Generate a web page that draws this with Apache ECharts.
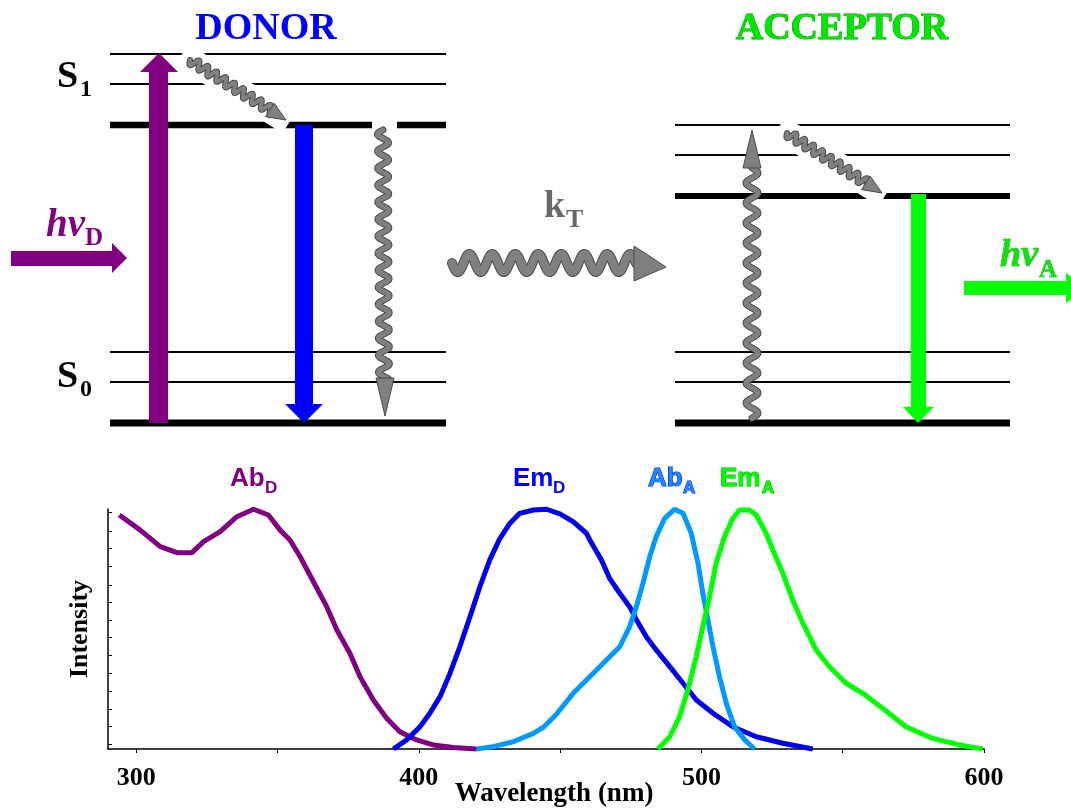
<!DOCTYPE html>
<html><head><meta charset="utf-8">
<script src="https://cdn.jsdelivr.net/npm/echarts@6/dist/echarts.min.js"></script>
<style>html,body{margin:0;padding:0;background:#fff}#c{width:1071px;height:809px}</style>
</head><body><div id="c"></div>
<script>
// ---- spectra data: [wavelength nm, normalized intensity] ----
const absorbDonor = [[294,0.975],[301.4,0.912],[308.5,0.843],[314.4,0.818],[319.7,0.818],[323.8,0.864],[329.7,0.906],[335.6,0.968],[341.5,0.999],[346.8,0.975],[350.9,0.912],[354.4,0.871],[358,0.801],[362.7,0.697],[367.4,0.593],[371,0.496],[375.6,0.399],[379.2,0.301],[383.9,0.204],[388.6,0.128],[393.3,0.072],[399.2,0.038],[405.1,0.017],[412.2,0.006],[420.4,0]];
const emitDonor = [[391,0],[395.7,0.038],[400.4,0.093],[403.9,0.149],[407.5,0.218],[411,0.315],[414.5,0.426],[418.1,0.551],[421.6,0.676],[425.1,0.788],[428.7,0.878],[432.2,0.94],[435.7,0.982],[440.5,0.996],[445.2,0.999],[449.9,0.98],[454.6,0.947],[459.3,0.899],[460.5,0.871],[464.6,0.788],[467.5,0.711],[471.1,0.649],[474.6,0.593],[477,0.538],[480.5,0.468],[484,0.413],[488.8,0.343],[493.5,0.274],[498.2,0.204],[504.1,0.149],[511.1,0.093],[519.4,0.051],[528.8,0.024],[539.4,0]];
const absorbAcceptor = [[420.4,0],[426.3,0.01],[433.4,0.03],[440.5,0.065],[444,0.09],[448.7,0.145],[454.6,0.232],[460.5,0.301],[466.4,0.371],[471.1,0.426],[474.6,0.51],[477,0.593],[479.3,0.69],[481.7,0.801],[484,0.885],[487,0.961],[490.5,0.999],[493.5,0.982],[496.4,0.899],[498.8,0.774],[500.5,0.649],[502.3,0.538],[504.1,0.426],[506.4,0.301],[508.8,0.19],[511.7,0.093],[515.3,0.038],[518.8,0]];
const emitAcceptor = [[484.6,0],[488.8,0.051],[492.3,0.135],[495.2,0.246],[498.2,0.385],[500.5,0.51],[502.9,0.635],[505.2,0.774],[508.2,0.885],[511.1,0.961],[513.5,0.996],[517,0.996],[519.4,0.975],[522.9,0.899],[525.3,0.829],[528.8,0.732],[532.3,0.621],[535.9,0.524],[540.6,0.413],[545.3,0.343],[551.2,0.274],[557.1,0.232],[564.2,0.169],[572.4,0.093],[581.8,0.044],[591.3,0.017],[599.5,0]];
const xTickValues = [300,350,400,450,500,550,600];
const xLabelValues = [300,400,500,600];
const yTickValues = [0.019,0.094,0.167,0.242,0.315,0.389,0.464,0.536,0.611,0.683,0.760,0.836,0.908,0.985];

const SERIF = '"Liberation Serif","Times New Roman",serif';
const SANS = '"Liberation Sans",Arial,sans-serif';

function txt(x,y,text,font,fill,extra){
  return {type:'text', x:x, y:y, z:20, style:Object.assign({text:text, font:font, fill:fill,
    textAlign:'left', textVerticalAlign:'middle', align:'left', verticalAlign:'middle'}, extra||{})};
}
function rect(x,y,w,h,fill,z){ return {type:'rect', z:z||10, shape:{x:x,y:y,width:w,height:h}, style:{fill:fill}}; }
function poly(points,fill,z,stroke){ return {type:'polygon', z:z||10, shape:{points:points}, style:{fill:fill, stroke:stroke||null, lineWidth:stroke?1:0}}; }
function hline(x1,x2,y,w){ return {type:'line', z:1, shape:{x1:x1,y1:y,x2:x2,y2:y}, style:{stroke:'#000', lineWidth:w}}; }
function wavePoints(x0,y0,x1,y1,amp,period){
  const dx=x1-x0, dy=y1-y0, L=Math.hypot(dx,dy), ux=dx/L, uy=dy/L, nx=-uy, ny=ux;
  const pts=[];
  for(let s=0;s<=L;s+=1){ const o=amp*Math.sin(2*Math.PI*s/period); pts.push([x0+ux*s+nx*o, y0+uy*s+ny*o]); }
  return pts;
}
function wavy(x0,y0,x1,y1,amp,period,width){
  const pts = wavePoints(x0,y0,x1,y1,amp,period);
  return [
    {type:'polyline', z:5, shape:{points:pts}, style:{stroke:'#4a4a4a', lineWidth:width+2, fill:null, lineCap:'round', lineJoin:'round'}},
    {type:'polyline', z:6, shape:{points:pts}, style:{stroke:'#808080', lineWidth:width, fill:null, lineCap:'round', lineJoin:'round'}}
  ];
}
function head(tx,ty,dx,dy,len,hw){
  const L=Math.hypot(dx,dy), ux=dx/L, uy=dy/L, nx=-uy, ny=ux;
  const bx=tx-ux*len, by=ty-uy*len;
  return poly([[tx,ty],[bx+nx*hw,by+ny*hw],[bx-nx*hw,by-ny*hw]], '#808080', 7, '#4a4a4a');
}
function whiteBand(x0,y0,x1,y1,hw){
  const dx=x1-x0, dy=y1-y0, L=Math.hypot(dx,dy), ux=dx/L, uy=dy/L, nx=-uy, ny=ux;
  const ax=x0-ux*10, ay=y0-uy*10, bx=x1+ux*4, by=y1+uy*4;
  return poly([[ax+nx*hw,ay+ny*hw],[bx+nx*hw,by+ny*hw],[bx-nx*hw,by-ny*hw],[ax-nx*hw,ay-ny*hw]], '#ffffff', 3);
}

const g = [];
// energy levels: donor
g.push(hline(110,446,54,2), hline(110,446,84,2), hline(110,446,125,6.5),
       hline(110,446,352,2), hline(110,446,382,2), hline(110,446,423,7));
// acceptor
g.push(hline(675,1010,125,2), hline(675,1010,155,2), hline(675,1010,196,6),
       hline(675,1010,352,2), hline(675,1010,382,2), hline(675,1010,423,7));

// white backgrounds for wavy arrows
g.push(whiteBand(190,60,286,120,13));
g.push(whiteBand(787,133,882,193,13));
g.push(rect(372,120,25,13,'#ffffff',3));

// donor diagonal wavy
(function(){
  const x0=190,y0=60,tx=286,ty=120, L=Math.hypot(tx-x0,ty-y0), ux=(tx-x0)/L, uy=(ty-y0)/L;
  g.push(...wavy(x0,y0,tx-ux*16,ty-uy*16,4.5,10.5,4));
  g.push(head(tx,ty,ux,uy,19,8));
})();
// acceptor diagonal wavy
(function(){
  const x0=787,y0=133,tx=882,ty=193, L=Math.hypot(tx-x0,ty-y0), ux=(tx-x0)/L, uy=(ty-y0)/L;
  g.push(...wavy(x0,y0,tx-ux*16,ty-uy*16,4.5,10.5,4));
  g.push(head(tx,ty,ux,uy,19,8));
})();
// donor vertical wavy (down)
g.push(...wavy(383,130,384,382,5.5,17,5));
g.push(head(385,416,0,1,38,9));
// acceptor vertical wavy (up)
g.push(...wavy(752,418,752,168,6,20,5));
g.push(head(752,130,0,-1,38,9));
// kT horizontal wavy
g.push(...wavy(452,263,636,263,9,23,8));
g.push(poly([[634,246],[634,281],[666,267]], '#808080', 7, '#4a4a4a'));

// colored arrows
g.push(rect(149,71,19,352,'#800080',8), poly([[140,72],[178,72],[159,53]],'#800080',8));
g.push(rect(11,251,102,15,'#800080',8), poly([[112,243],[112,273],[127,258]],'#800080',8));
g.push(rect(295,125,18,280,'#0000ff',8), poly([[285,404],[323,404],[304,423]],'#0000ff',8));
g.push(rect(911,194,15,214,'#00ff00',8), poly([[903,407],[934,407],[918,423]],'#00ff00',8));
g.push(rect(964,281,103,14,'#00ff00',8), poly([[1066,273],[1066,303],[1086,288]],'#00ff00',8));

// diagram texts
g.push(txt(266,29,'DONOR','bold 38px '+SERIF,'#0000ff',{textAlign:'center',align:'center'}));
g.push(txt(842,29,'ACCEPTOR','bold 38px '+SERIF,'#00e600',{textAlign:'center',align:'center',stroke:'#00a000',lineWidth:1}));
g.push(txt(57,77,'S','bold 38px '+SERIF,'#000'));
g.push(txt(80,90,'1','bold 24px '+SERIF,'#000'));
g.push(txt(57,377,'S','bold 38px '+SERIF,'#000'));
g.push(txt(80,390,'0','bold 24px '+SERIF,'#000'));
g.push(txt(46,226,'hv','italic bold 39px '+SERIF,'#800080'));
g.push(txt(85,239,'D','bold 25px '+SERIF,'#800080'));
g.push(txt(544,207,'k','bold 38px '+SERIF,'#696969'));
g.push(txt(566,220,'T','bold 26px '+SERIF,'#696969'));
g.push(txt(1000,256,'hv','italic bold 38px '+SERIF,'#11e011',{stroke:'#00a000',lineWidth:0.6}));
g.push(txt(1039,271,'A','bold 25px '+SERIF,'#11e011',{stroke:'#00a000',lineWidth:0.6}));

// spectrum labels
g.push(txt(230,479,'Ab','bold 26px '+SANS,'#800080'));
g.push(txt(265,488.5,'D','bold 17px '+SANS,'#800080'));
g.push(txt(513,479,'Em','bold 26px '+SANS,'#0000ff'));
g.push(txt(553,488.5,'D','bold 17px '+SANS,'#0000ff'));
g.push(txt(648,479,'Ab','bold 26px '+SANS,'#1a8cff',{stroke:'#0000ee',lineWidth:1}));
g.push(txt(683,488.5,'A','bold 17px '+SANS,'#1a8cff',{stroke:'#0000ee',lineWidth:1}));
g.push(txt(720,479,'Em','bold 26px '+SANS,'#00ff00',{stroke:'#00a000',lineWidth:1}));
g.push(txt(762,488.5,'A','bold 17px '+SANS,'#00ff00',{stroke:'#00a000',lineWidth:1}));

function lineSeries(name,data,color){
  return {name:name, type:'line', data:data, showSymbol:false, symbol:'none', smooth:false, clip:false,
    lineStyle:{color:color, width:5}, itemStyle:{color:color}, silent:true};
}

const chart = echarts.init(document.getElementById('c'), null, {renderer:'canvas'});
chart.setOption({
  animation:false,
  backgroundColor:'#ffffff',
  grid:{left:108, right:87, top:509, bottom:60, containLabel:false, outerBoundsMode:'none'},
  xAxis:{type:'value', min:290, max:600,
    name:'Wavelength (nm)', nameLocation:'middle', nameGap:32, nameMoveOverlap:false,
    nameTextStyle:{fontFamily:SERIF, fontWeight:'bold', fontSize:27, color:'#000', padding:[0,0,0,16]},
    axisLine:{show:true, onZero:false, lineStyle:{color:'#000', width:1.5}},
    axisTick:{show:true, inside:false, length:4, customValues:xTickValues, lineStyle:{color:'#000', width:1}},
    axisLabel:{show:true, customValues:xLabelValues, margin:16, fontFamily:SERIF, fontWeight:'bold', fontSize:26, color:'#000'},
    splitLine:{show:false}},
  yAxis:{type:'value', min:0, max:1,
    name:'Intensity', nameLocation:'middle', nameGap:15, nameRotate:90, nameMoveOverlap:false,
    nameTextStyle:{fontFamily:SERIF, fontWeight:'bold', fontSize:26, color:'#000'},
    axisLine:{show:true, onZero:false, lineStyle:{color:'#000', width:1.5}},
    axisTick:{show:true, inside:true, length:4, customValues:yTickValues, lineStyle:{color:'#000', width:1}},
    axisLabel:{show:false},
    splitLine:{show:false}},
  series:[
    lineSeries('AbD', absorbDonor, '#800080'),
    lineSeries('EmD', emitDonor, '#0000ee'),
    lineSeries('AbA', absorbAcceptor, '#0099ff'),
    lineSeries('EmA', emitAcceptor, '#00ff00')
  ],
  graphic:{elements:g}
});
</script></body></html>
